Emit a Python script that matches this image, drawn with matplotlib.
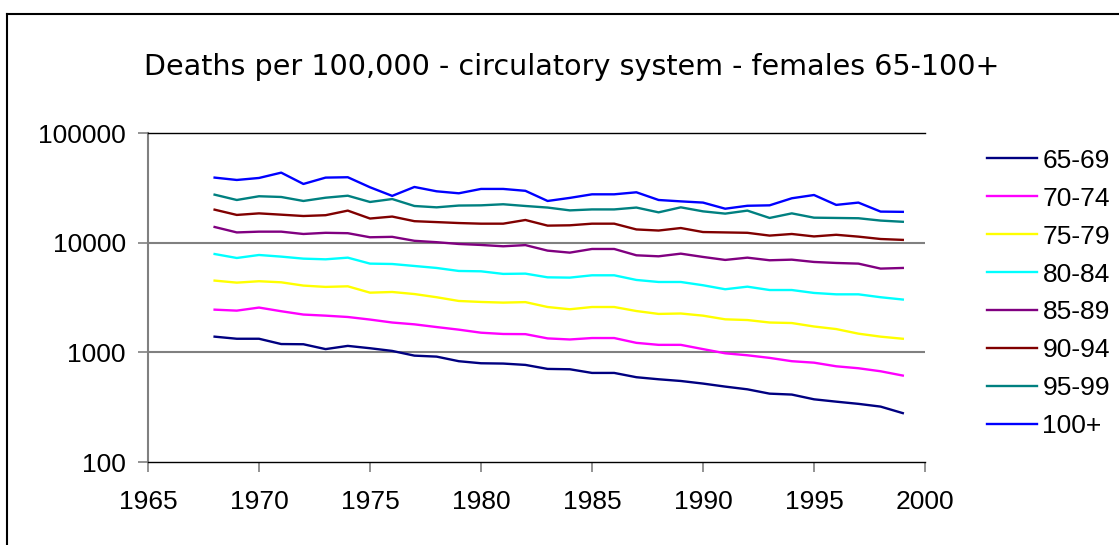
import matplotlib
matplotlib.use('Agg')
import matplotlib.pyplot as plt
from matplotlib.lines import Line2D
from matplotlib.ticker import FixedLocator, NullLocator, FixedFormatter

years = list(range(1968, 2000))

age_groups = ['65-69', '70-74', '75-79', '80-84', '85-89', '90-94', '95-99', '100+']
colores = ['#000080', '#FF00FF', '#FFFF00', '#00FFFF', '#800080', '#800000', '#008080', '#0000FF']

d65 = [1390, 1330, 1330, 1190, 1185, 1070, 1145, 1090, 1030, 933, 914, 830, 795, 790, 768,
       706, 701, 649, 649, 593, 568, 548, 519, 487, 460, 420, 412, 373, 355, 339, 320, 279]
d70 = [2450, 2400, 2560, 2370, 2210, 2160, 2100, 1990, 1870, 1800, 1700, 1610, 1510, 1470, 1465,
       1340, 1310, 1350, 1350, 1220, 1170, 1170, 1070, 980, 940, 890, 830, 805, 746, 716, 672, 614]
d75 = [4510, 4320, 4450, 4350, 4060, 3950, 4000, 3500, 3550, 3400, 3180, 2940, 2880, 2840, 2870,
       2590, 2470, 2590, 2590, 2380, 2240, 2260, 2160, 2000, 1970, 1870, 1850, 1720, 1630, 1480, 1390, 1330]
d80 = [7880, 7250, 7720, 7460, 7150, 7050, 7300, 6440, 6390, 6130, 5880, 5520, 5480, 5190, 5220,
       4830, 4800, 5040, 5040, 4570, 4380, 4380, 4090, 3760, 3970, 3700, 3700, 3480, 3380, 3380, 3180, 3030]
d85 = [13900, 12400, 12600, 12600, 12000, 12300, 12200, 11200, 11300, 10400, 10100, 9730, 9530, 9270, 9500,
       8460, 8110, 8760, 8760, 7670, 7510, 7940, 7410, 6960, 7300, 6910, 7000, 6670, 6530, 6440, 5800, 5880]
d90 = [20000, 17900, 18500, 18000, 17500, 17800, 19600, 16600, 17300, 15700, 15400, 15100, 14900, 14900, 16100,
       14300, 14400, 14900, 14900, 13200, 12900, 13600, 12500, 12400, 12300, 11600, 12000, 11400, 11800, 11350, 10800, 10600]
d95 = [27400, 24500, 26500, 26100, 24000, 25700, 26800, 23500, 25000, 21600, 21000, 21800, 21900, 22400, 21600,
       20900, 19700, 20100, 20100, 20900, 18900, 21000, 19300, 18400, 19600, 16800, 18500, 16900, 16800, 16700, 15900, 15500]
d100 = [39200, 37300, 38900, 43500, 34300, 39200, 39500, 32000, 26700, 32200, 29400, 28200, 30900, 30900, 29700,
        24000, 25600, 27600, 27600, 28800, 24500, 23800, 23200, 20400, 21700, 21900, 25400, 27200, 22100, 23200, 19200, 19100]

series = [d65, d70, d75, d80, d85, d90, d95, d100]

x_ticks = [1965, 1970, 1975, 1980, 1985, 1990, 1995, 2000]
y_ticks = [100, 1000, 10000, 100000]
y_labels = ['100', '1000', '10000', '100000']

plt.rcParams['font.family'] = ['Liberation Sans', 'DejaVu Sans']

fig = plt.figure(figsize=(11.19, 5.45), dpi=100)
ax = fig.add_axes([148 / 1119, 1 - 462 / 545, (925 - 148) / 1119, (462 - 133) / 545])

for datos, nombre, c in zip(series, age_groups, colores):
    ax.plot(years, datos, color=c, lw=1.7, label=nombre)

ax.set_yscale('log')
ax.set_xlim(1965, 2000)
ax.set_ylim(100, 100000)
ax.set_xticks(x_ticks)
ax.yaxis.set_major_locator(FixedLocator(y_ticks))
ax.yaxis.set_major_formatter(FixedFormatter(y_labels))
ax.yaxis.set_minor_locator(NullLocator())
ax.xaxis.set_minor_locator(NullLocator())

for v in [1000, 10000]:
    ax.axhline(v, color='#808080', lw=1.5, zorder=0)

ax.spines['right'].set_visible(False)
ax.spines['top'].set_color('black')
ax.spines['top'].set_linewidth(1.0)
ax.spines['left'].set_color('#808080')
ax.spines['left'].set_linewidth(1.5)
ax.spines['bottom'].set_color('black')
ax.spines['bottom'].set_linewidth(1.0)
ax.tick_params(axis='both', direction='out', length=7, width=1.2, color='#808080',
               labelsize=19)
ax.tick_params(axis='y', pad=9)
ax.tick_params(axis='x', pad=13)

fig.text(572 / 1119, 1 - 67 / 545, 'Deaths per 100,000 - circulatory system - females 65-100+',
         ha='center', va='center', fontsize=20.6, family='DejaVu Sans')

fig.legend(loc='center left', bbox_to_anchor=(987 / 1119, 1 - 293.5 / 545),
           frameon=False, fontsize=19, handlelength=1.9, handletextpad=0.2,
           labelspacing=0.53, borderpad=0, borderaxespad=0)

# marco exterior del grafico
fig.add_artist(Line2D([7 / 1119, 7 / 1119], [0, 1 - 14 / 545], color='black', lw=1.5,
                      transform=fig.transFigure))
fig.add_artist(Line2D([7 / 1119, 1], [1 - 14 / 545, 1 - 14 / 545], color='black', lw=1.5,
                      transform=fig.transFigure))

fig.savefig('out.png', dpi=100)
